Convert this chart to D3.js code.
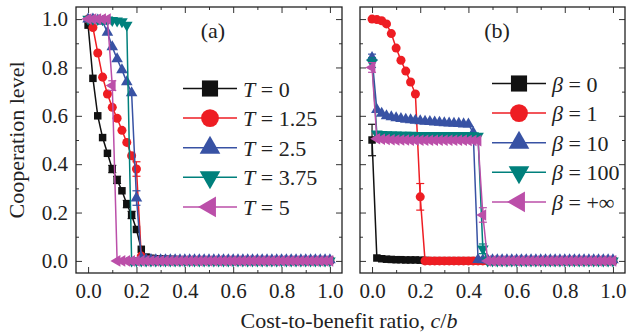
<!DOCTYPE html>
<html>
<head>
<meta charset="utf-8">
<script src="https://cdn.jsdelivr.net/npm/d3@7.9.0/dist/d3.min.js"></script>
<style>
  body { margin: 0; background: #fff; }
  svg { display: block; font-family: "Liberation Serif", "Times New Roman", serif; }
</style>
</head>
<body>
<svg id="chart" width="628" height="333"></svg>
<script>
// cost-to-benefit ratio c/b
const cb = [0,0.02,0.04,0.06,0.08,0.1,0.12,0.14,0.16,0.18,
  0.2,0.22,0.24,0.26,0.28,0.3,0.32,0.34,0.36,0.38,
  0.4,0.42,0.44,0.46,0.48,0.5,0.52,0.54,0.56,0.58,
  0.6,0.62,0.64,0.66,0.68,0.7,0.72,0.74,0.76,0.78,
  0.8,0.82,0.84,0.86,0.88,0.9,0.92,0.94,0.96,0.98,
  1];

// panel (a): different T
const coopT0 = [0.975,0.755,0.600,0.510,0.445,0.380,0.335,0.290,0.235,0.190,
  0.130,0.048,0.016,0.011,0.009,0.008,0.007,0.006,0.006,0.005,
  0.005,0.005,0.004,0.004,0.004,0.004,0.003,0.003,0.003,0.003,
  0.003,0.003,0.003,0.002,0.002,0.002,0.002,0.002,0.002,0.002,
  0.002,0.002,0.002,0.002,0.002,0.002,0.002,0.002,0.002,0.002,
  0.002];
const coopT125 = [1.000,0.965,0.860,0.760,0.690,0.635,0.590,0.540,0.490,0.435,
  0.380,0.020,0.006,0.004,0.003,0.002,0.002,0.002,0.001,0.001,
  0.001,0.001,0.001,0.001,0.001,0.001,0.001,0.001,0.001,0.001,
  0.001,0.001,0.001,0.001,0.001,0.001,0.001,0.001,0.001,0.001,
  0.001,0.001,0.001,0.001,0.001,0.001,0.001,0.001,0.001,0.001,
  0.001];
const coopT25 = [1.000,1.000,0.996,0.990,0.945,0.885,0.835,0.790,0.740,0.695,
  0.260,0.012,0.006,0.005,0.004,0.004,0.004,0.004,0.004,0.004,
  0.004,0.004,0.004,0.004,0.004,0.004,0.004,0.004,0.004,0.004,
  0.004,0.004,0.004,0.004,0.004,0.004,0.004,0.004,0.004,0.004,
  0.004,0.004,0.004,0.004,0.004,0.004,0.004,0.004,0.004,0.004,
  0.004];
const coopT375 = [1.000,1.000,0.999,0.998,0.997,0.995,0.993,0.990,0.975,0.000,
  0,0,0,0,0,0,0,0,0,0,
  0,0,0,0,0,0,0,0,0,0,
  0,0,0,0,0,0,0,0,0,0,
  0,0,0,0,0,0,0,0,0,0,
  0];
const coopT5 = [1.000,1.000,1.000,1.000,1.000,0.725,0,0,0,0,
  0,0,0,0,0,0,0,0,0,0,
  0,0,0,0,0,0,0,0,0,0,
  0,0,0,0,0,0,0,0,0,0,
  0,0,0,0,0,0,0,0,0,0,
  0];

// panel (b): different beta
const coopB0 = [0.500,0.012,0.009,0.007,0.006,0.005,0.005,0.004,0.004,0.004,
  0.003,0.002,0.001,0.001,0.001,0.001,0.001,0.001,0.001,0.001,
  0.001,0.001,0.001,0.001,0.001,0.001,0.001,0.001,0.001,0.001,
  0.001,0.001,0.001,0.001,0.001,0.001,0.001,0.001,0.001,0.001,
  0.001,0.001,0.001,0.001,0.001,0.001,0.001,0.001,0.001,0.001,
  0.001];
const coopB1 = [1.000,0.998,0.993,0.980,0.940,0.880,0.830,0.785,0.740,0.690,
  0.265,0,0,0,0,0,0,0,0,0,
  0,0,0,0,0,0,0,0,0,0,
  0,0,0,0,0,0,0,0,0,0,
  0,0,0,0,0,0,0,0,0,0,
  0];
const coopB10 = [0.840,0.625,0.610,0.600,0.595,0.591,0.588,0.585,0.583,0.581,
  0.579,0.577,0.576,0.574,0.573,0.571,0.570,0.569,0.568,0.566,
  0.565,0.530,0.005,0.004,0.004,0.004,0.004,0.004,0.004,0.004,
  0.004,0.004,0.004,0.004,0.004,0.004,0.004,0.004,0.004,0.004,
  0.004,0.004,0.004,0.004,0.004,0.004,0.004,0.004,0.004,0.004,
  0.004];
const coopB100 = [0.820,0.525,0.523,0.522,0.521,0.521,0.520,0.520,0.520,0.519,
  0.519,0.519,0.519,0.519,0.519,0.519,0.519,0.519,0.519,0.519,
  0.518,0.518,0.516,0.050,0,0,0,0,0,0,
  0,0,0,0,0,0,0,0,0,0,
  0,0,0,0,0,0,0,0,0,0,
  0];
const coopBinf = [0.800,0.505,0.503,0.502,0.501,0.500,0.500,0.500,0.499,0.499,
  0.499,0.499,0.499,0.499,0.499,0.499,0.499,0.499,0.499,0.499,
  0.498,0.498,0.497,0.190,0,0,0,0,0,0,
  0,0,0,0,0,0,0,0,0,0,
  0,0,0,0,0,0,0,0,0,0,
  0];

// error bars: series index, c/b, half width
const errA = [[0,0.10,0.015],[0,0.12,0.015],[0,0.16,0.015],[0,0.18,0.015],
  [1,0.20,0.03],[2,0.20,0.03],[4,0.10,0.02]];
const errB = [[0,0,0.065],[1,0.20,0.055],[2,0,0.015],[3,0,0.02],[4,0,0.02],
  [3,0.46,0.02],[4,0.46,0.03]];

const labelsA = ["0", "1.25", "2.5", "3.75", "5"];
const labelsB = ["0", "1", "10", "100", "+\u221e"];
const colors = ["#111111", "#ee1d23", "#3852a4", "#00807c", "#bb4fa9"];
const shapes = ["square", "circle", "up", "down", "left"];
const xTicks = [0, 0.2, 0.4, 0.6, 0.8, 1.0];
const xMinor = [0.1, 0.3, 0.5, 0.7, 0.9];
const serif = "'Liberation Serif', 'Times New Roman', serif";

const svg = d3.select("#chart");
svg.append("rect").attr("width", 628).attr("height", 333).attr("fill", "#fff");

const y = d3.scaleLinear().domain([-0.05, 1.05]).range([273, 7]);
const fmt = d3.format(".1f");

function symbolPath(shape, size) {
  const type = shape === "square" ? d3.symbolSquare : shape === "circle" ? d3.symbolCircle : d3.symbolTriangle;
  return d3.symbol().type(type).size(size)();
}
function symbolRot(shape) {
  return shape === "down" ? 180 : shape === "left" ? -90 : 0;
}

function drawPanel(x0, x1, series, errs, labels, greek, tag, tagX, legX, legY, showYLabels) {
  const x = d3.scaleLinear().domain([-0.05, 1.05]).range([x0, x1]);
  const g = svg.append("g");

  // ticks
  const tickStyle = sel => {
    sel.select(".domain").remove();
    sel.selectAll(".tick line").attr("stroke", "#333").attr("stroke-width", 1);
    sel.selectAll(".tick text")
      .style("font-family", serif).style("font-size", "21px").style("fill", "#222");
  };
  g.append("g").attr("transform", "translate(0,273)")
    .call(d3.axisBottom(x).tickValues(xTicks).tickFormat(fmt).tickSize(-6).tickPadding(10))
    .call(tickStyle);
  g.append("g").attr("transform", "translate(0,273)")
    .call(d3.axisBottom(x).tickValues(xMinor).tickFormat("").tickSize(-3)).call(tickStyle);
  g.append("g").attr("transform", "translate(0,7)")
    .call(d3.axisTop(x).tickValues(xTicks).tickFormat("").tickSize(-6)).call(tickStyle);
  g.append("g").attr("transform", "translate(0,7)")
    .call(d3.axisTop(x).tickValues(xMinor).tickFormat("").tickSize(-3)).call(tickStyle);
  g.append("g").attr("transform", `translate(${x0},0)`)
    .call(d3.axisLeft(y).tickValues(xTicks).tickFormat(showYLabels ? fmt : "").tickSize(-6).tickPadding(8))
    .call(tickStyle);
  g.append("g").attr("transform", `translate(${x0},0)`)
    .call(d3.axisLeft(y).tickValues(xMinor).tickFormat("").tickSize(-3)).call(tickStyle);
  g.append("g").attr("transform", `translate(${x1},0)`)
    .call(d3.axisRight(y).tickValues(xTicks).tickFormat("").tickSize(-6)).call(tickStyle);
  g.append("g").attr("transform", `translate(${x1},0)`)
    .call(d3.axisRight(y).tickValues(xMinor).tickFormat("").tickSize(-3)).call(tickStyle);

  const line = d3.line().x((d, i) => x(cb[i])).y(d => y(d));

  series.forEach((vals, s) => {
    const sg = g.append("g");
    sg.append("path").datum(vals).attr("d", line)
      .attr("fill", "none").attr("stroke", colors[s]).attr("stroke-width", 1.5);
    errs.filter(e => e[0] === s).forEach(e => {
      const i = cb.findIndex(c => Math.abs(c - e[1]) < 1e-9);
      const cx = x(cb[i]);
      const lo = y(vals[i] - e[2]), hi = y(vals[i] + e[2]);
      sg.append("line").attr("x1", cx).attr("x2", cx).attr("y1", lo).attr("y2", hi)
        .attr("stroke", colors[s]).attr("stroke-width", 1.2);
      [lo, hi].forEach(yy => sg.append("line").attr("x1", cx - 4).attr("x2", cx + 4)
        .attr("y1", yy).attr("y2", yy).attr("stroke", colors[s]).attr("stroke-width", 1.2));
    });
    const size = shapes[s] === "square" ? 56 : shapes[s] === "circle" ? 64 : 58;
    sg.selectAll("path.m").data(vals).join("path").attr("class", "m")
      .attr("d", symbolPath(shapes[s], size))
      .attr("transform", (d, i) => `translate(${x(cb[i])},${y(d)}) rotate(${symbolRot(shapes[s])})`)
      .attr("fill", colors[s]);
  });

  // frame
  g.append("rect").attr("x", x0).attr("y", 7).attr("width", x1 - x0).attr("height", 266)
    .attr("fill", "none").attr("stroke", "#222").attr("stroke-width", 1.3);

  g.append("text").attr("x", tagX).attr("y", 38).attr("text-anchor", "middle")
    .attr("font-size", 22).attr("fill", "#222").text(tag);

  // legend
  labels.forEach((lab, s) => {
    const ly = legY + s * 29.6;
    g.append("line").attr("x1", legX - 27).attr("x2", legX + 27).attr("y1", ly).attr("y2", ly)
      .attr("stroke", colors[s]).attr("stroke-width", 1.5);
    const size = shapes[s] === "square" ? 260 : shapes[s] === "circle" ? 250 : 185;
    g.append("path").attr("d", symbolPath(shapes[s], size))
      .attr("transform", `translate(${legX},${ly}) rotate(${symbolRot(shapes[s])})`)
      .attr("fill", colors[s]);
    const t = g.append("text").attr("x", legX + 33).attr("y", ly + 8)
      .attr("font-size", 22).attr("fill", "#222");
    t.append("tspan").attr("font-style", "italic").text(greek);
    t.append("tspan").text(" = " + lab);
  });
}

drawPanel(76, 342, [coopT0, coopT125, coopT25, coopT375, coopT5], errA, labelsA, "T",
  "(a)", 213, 210, 88.5, true);
drawPanel(360, 625, [coopB0, coopB1, coopB10, coopB100, coopBinf], errB, labelsB, "\u03b2",
  "(b)", 497, 519, 83.5, false);

// axis titles
svg.append("text").attr("transform", "translate(24,140) rotate(-90)")
  .attr("text-anchor", "middle").attr("font-size", 22).attr("fill", "#222")
  .text("Cooperation level");
const xt = svg.append("text").attr("x", 349).attr("y", 328).attr("text-anchor", "middle")
  .attr("font-size", 22).attr("fill", "#222");
xt.append("tspan").text("Cost-to-benefit ratio, ");
xt.append("tspan").attr("font-style", "italic").text("c");
xt.append("tspan").text("/");
xt.append("tspan").attr("font-style", "italic").text("b");
</script>
</body>
</html>
